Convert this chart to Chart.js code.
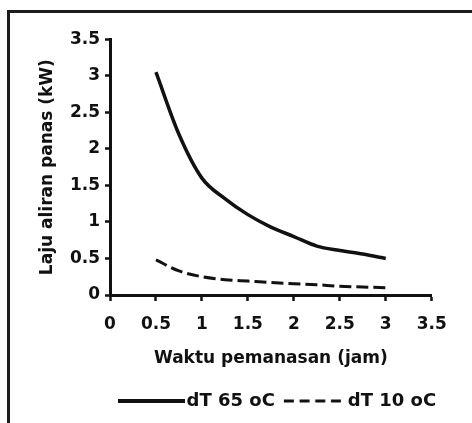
<!DOCTYPE html>
<html>
<head>
<meta charset="utf-8">
<script src="https://cdn.jsdelivr.net/npm/chart.js@4/dist/chart.umd.min.js"></script>
<style>
  body { margin: 0; background: #fff; }
  #wrap { position: relative; width: 472px; height: 423px; overflow: hidden; }
  #frame { position: absolute; left: 7px; top: 10px; width: 480px; height: 430px;
           border-top: 3px solid #1c1c1c; border-left: 3px solid #1c1c1c; }
  canvas { position: absolute; left: 0; top: 0; }
</style>
</head>
<body>
<div id="wrap">
  <div id="frame"></div>
  <canvas id="canvas" width="472" height="423"></canvas>
</div>
<script>
// heating time (hours) and heat flow rate (kW)
let hours = [0.5, 0.75, 1, 1.25, 1.5, 1.75, 2, 2.25, 2.5, 2.75, 3];
let dT65  = [3.05, 2.2, 1.6, 1.32, 1.1, 0.93, 0.8, 0.67, 0.61, 0.56, 0.5];
let dT10  = [0.48, 0.33, 0.25, 0.21, 0.19, 0.17, 0.155, 0.14, 0.12, 0.11, 0.10];

let seriesNames = ['dT 65 oC', 'dT 10 oC'];
let xTickLabels = ['0', '0.5', '1', '1.5', '2', '2.5', '3', '3.5'];
let yTickLabels = ['0', '0.5', '1', '1.5', '2', '2.5', '3', '3.5'];

let ink = '#111';
let font = { family: 'DejaVu Sans', weight: 'bold', size: 17 };

// little legend swatches (solid and dashed line)
function swatch(dashed) {
  let c = document.createElement('canvas');
  c.width = 67; c.height = 8;
  let g = c.getContext('2d');
  g.strokeStyle = ink;
  g.beginPath();
  if (dashed) {
    g.lineWidth = 3;
    g.setLineDash([10, 5.7]);
    g.moveTo(5, 4); g.lineTo(62, 4);
  } else {
    g.lineWidth = 4;
    g.moveTo(0, 4); g.lineTo(67, 4);
  }
  g.stroke();
  return c;
}
let swatches = [swatch(false), swatch(true)];

function points(ys) {
  let pts = [];
  for (let i = 0; i < hours.length; i++) pts.push({ x: hours[i], y: ys[i] });
  return pts;
}

// the legend sits under the plot area, not the canvas centre
let shiftLegend = {
  id: 'shiftLegend',
  afterLayout(chart) {
    chart.legend.left += 46;
    chart.legend.right += 46;
  }
};

let options = {
  type: 'line',
  data: {
    datasets: [{
      label: seriesNames[0],
      data: points(dT65),
      borderColor: ink,
      borderWidth: 3.5,
      pointRadius: 0,
      cubicInterpolationMode: 'monotone'
    }, {
      label: seriesNames[1],
      data: points(dT10),
      borderColor: ink,
      borderWidth: 3,
      borderDash: [12, 5],
      pointRadius: 0,
      cubicInterpolationMode: 'monotone'
    }]
  },
  options: {
    responsive: false,
    animation: false,
    layout: { padding: { left: 37, right: 40.3, top: 39.3, bottom: 3 } },
    plugins: {
      tooltip: { enabled: false },
      legend: {
        position: 'bottom',
        labels: {
          usePointStyle: true,
          pointStyleWidth: 53,
          padding: 11,
          color: ink,
          font: { family: 'DejaVu Sans', weight: 'bold', size: 18 },
          generateLabels(chart) {
            let items = Chart.defaults.plugins.legend.labels.generateLabels(chart);
            items.forEach((it, i) => { it.pointStyle = swatches[i]; });
            return items;
          }
        }
      }
    },
    scales: {
      x: {
        type: 'linear',
        min: 0, max: 3.5,
        afterFit(s) { s.height = 86; },
        ticks: {
          stepSize: 0.5, padding: 13, color: ink, font: font,
          maxRotation: 0, autoSkip: false,
          callback: (v, i) => xTickLabels[i]
        },
        grid: { drawOnChartArea: false, drawTicks: true, tickLength: 6, tickColor: ink, tickWidth: 2.5 },
        border: { display: true, color: ink, width: 3 },
        title: { display: true, text: 'Waktu pemanasan (jam)', color: ink, font: font, padding: { top: 0, bottom: 12 } }
      },
      y: {
        min: 0, max: 3.5,
        afterFit(s) { s.width = 73; },
        ticks: {
          stepSize: 0.5, padding: 5, color: ink, font: font,
          callback: (v, i) => yTickLabels[i]
        },
        grid: { drawOnChartArea: false, drawTicks: true, tickLength: 5, tickColor: ink, tickWidth: 2.5 },
        border: { display: true, color: ink, width: 3 },
        title: { display: true, text: 'Laju aliran panas (kW)', color: ink, font: font, padding: { top: 0, bottom: 0 } }
      }
    }
  },
  plugins: [shiftLegend]
};

let chart = new Chart(document.getElementById('canvas'), options);
</script>
</body>
</html>
